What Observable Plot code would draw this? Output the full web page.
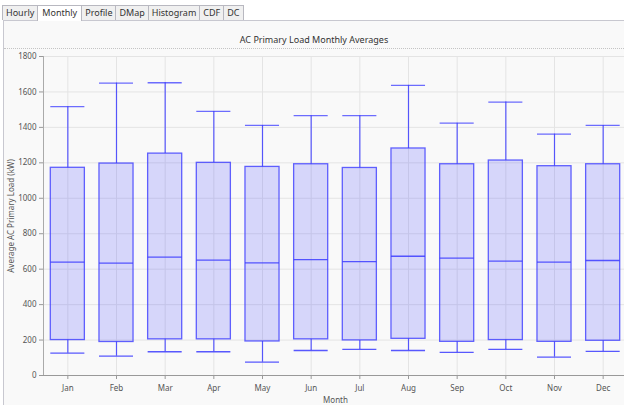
<!DOCTYPE html>
<html>
<head>
<meta charset="utf-8">
<script src="https://cdn.jsdelivr.net/npm/d3@7"></script>
<script src="https://cdn.jsdelivr.net/npm/@observablehq/plot@0.6"></script>
<style>
  html, body { margin: 0; padding: 0; background: #ffffff; width: 624px; height: 405px; overflow: hidden; font-family: "Noto Sans", "Open Sans", sans-serif; }
  #tabs { position: absolute; left: 2px; top: 4px; height: 16px; display: flex; align-items: flex-end; }
  .tab { font-size: 9px; color: #333; border: 1px solid #b8b8c0; border-bottom: none; background: #f0f0f0; padding: 1px 3px 1px 3px; margin-right: -1px; line-height: 12px; height: 12px; }
  .tab.sel { background: #ffffff; height: 15px; line-height: 14px; position: relative; top: 1px; padding: 0 4px; z-index: 2; }
  #panel { position: absolute; left: 3px; top: 20px; width: 630px; height: 400px; border-top: 1px solid #c8c8d0; border-left: 1px solid #c8c8d0; background: #f9f9f9; overflow: hidden; }
  #title { position: absolute; left: 0; width: 620px; top: 12px; text-align: center; font-size: 9px; color: #333; }
  #sep { position: absolute; left: 0; width: 630px; top: 27px; border-top: 1px dotted #c4c4c4; }
  #chart { position: absolute; left: -4px; top: 28px; }
</style>
</head>
<body>
<div id="tabs">
  <span class="tab">Hourly</span><span class="tab sel">Monthly</span><span class="tab">Profile</span><span class="tab">DMap</span><span class="tab">Histogram</span><span class="tab">CDF</span><span class="tab">DC</span>
</div>
<div id="panel">
  <div id="title">AC Primary Load Monthly Averages</div>
  <div id="sep"></div>
  <div id="chart"></div>
</div>
<script>
const months = ["Jan","Feb","Mar","Apr","May","Jun","Jul","Aug","Sep","Oct","Nov","Dec"];
const whiskerLow  = [126, 109, 134, 134, 75, 141, 147, 141, 130, 147, 104, 136];
const boxLow      = [200, 189, 204, 204, 192, 204, 198, 207, 190, 200, 190, 196];
const medians     = [640, 634, 668, 651, 636, 654, 643, 673, 662, 645, 640, 649];
const boxHigh     = [1172, 1196, 1252, 1200, 1177, 1192, 1171, 1281, 1192, 1213, 1181, 1192];
const whiskerHigh = [1517, 1650, 1652, 1490, 1411, 1466, 1466, 1637, 1424, 1543, 1362, 1411];
const yTicks = [0, 200, 400, 600, 800, 1000, 1200, 1400, 1600, 1800];

const data = months.map((m, i) => ({
  month: m, wlo: whiskerLow[i], q1: boxLow[i], med: medians[i], q3: boxHigh[i], whi: whiskerHigh[i]
}));

const W = 627, ML = 43, MR = 0;
const step = (W - ML - MR) / months.length;
const blue = "#3c3cff";
const chart = Plot.plot({
  width: W,
  height: 357,
  marginLeft: ML,
  marginRight: MR,
  marginTop: 7,
  marginBottom: 31,
  style: { background: "transparent", fontFamily: "Noto Sans, Open Sans, sans-serif", fontSize: "8px", color: "#555" },
  x: { domain: months, paddingInner: 0.3, paddingOuter: 0.15, align: 0.5, round: false, label: null },
  y: { domain: [0, 1800], label: null },
  marks: [
    Plot.gridY(yTicks, { stroke: "#e4e4e4", strokeOpacity: 1 }),
    Plot.gridX(months, { stroke: "#e4e4e4", strokeOpacity: 1 }),
    Plot.ruleX(data, { x: "month", y1: "q3", y2: "whi", stroke: blue, strokeOpacity: 0.85, strokeWidth: 1.2 }),
    Plot.ruleX(data, { x: "month", y1: "wlo", y2: "q1", stroke: blue, strokeOpacity: 0.85, strokeWidth: 1.2 }),
    Plot.barY(data, { x: "month", y1: "q1", y2: "q3", fill: "#3a3aff", fillOpacity: 0.18, stroke: blue, strokeOpacity: 0.8, strokeWidth: 1.3 }),
    Plot.tickY(data, { x: "month", y: "med", stroke: blue, strokeOpacity: 0.85, strokeWidth: 1.3 }),
    Plot.tickY(data, { x: "month", y: "whi", stroke: blue, strokeOpacity: 0.75, strokeWidth: 1.3 }),
    Plot.tickY(data, { x: "month", y: "wlo", stroke: blue, strokeOpacity: 0.85, strokeWidth: 1.3 }),
    Plot.axisY(yTicks, { tickSize: 4, tickPadding: 3, tickFormat: d => String(d), stroke: "#999", color: "#555", label: "Average AC Primary Load (kW)", labelArrow: "none", labelAnchor: "center", labelOffset: 35 }),
    Plot.axisX(months, { tickSize: 4, tickPadding: 6, stroke: "#999", color: "#555", label: "Month", labelArrow: "none", labelAnchor: "center", labelOffset: 27 }),
    Plot.ruleY([0], { stroke: "#999", strokeWidth: 1 }),
    Plot.ruleX([months[0]], { x: d => d, dx: -step / 2, stroke: "#aaa" })
  ]
});
document.getElementById("chart").appendChild(chart);
</script>
</body>
</html>
